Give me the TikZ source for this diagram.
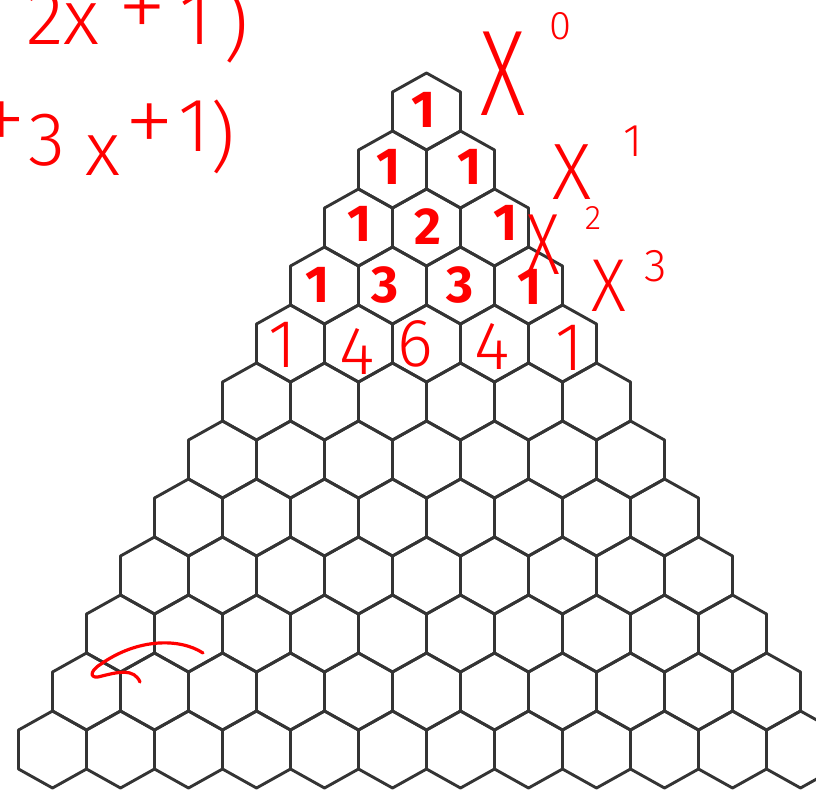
\documentclass[tikz,border=0pt]{standalone}
\usepackage{fontspec}
\newfontfamily\handthin{Fira Sans Light}
\newfontfamily\handxlight{Fira Sans ExtraLight}
\newfontfamily\handbold{Fira Sans}[UprightFont={* Bold}]
\definecolor{ink}{HTML}{FF0000}
\definecolor{hexgray}{HTML}{343434}
\newcommand{\fs}[1]{\fontsize{#1}{#1}\selectfont}
\newcommand{\narrowx}[1]{\scalebox{#1}[1]{X}}
\newcommand{\bigplus}[1]{\scalebox{#1}{\handxlight +}}
\begin{document}
\begin{tikzpicture}[x=1pt,y=-1pt,
  hexline/.style={draw=hexgray, line width=2.9pt, line join=round},
  inkbold/.style={text=ink, inner sep=0pt, font=\handbold\fs{52}},
  inkthin/.style={text=ink, inner sep=0pt, font=\handthin\fs{68}},
  inktext/.style={text=ink, inner sep=0pt},
  scribble/.style={draw=ink, line width=3.2pt, line cap=round, line join=round}]
\useasboundingbox (0,0) rectangle (816,790);
\clip (0,0) rectangle (816,790);
% hexagon triangle
\foreach \r in {0,...,11}{
  \foreach \k in {0,...,\r}{
    \pgfmathsetmacro\cx{426.5+(\k-\r/2)*68}
    \pgfmathsetmacro\cy{111.5+58*\r}
    \draw[hexline] (\cx,\cy) ++(0,-38.5) -- ++(34,19) -- ++(0,39) -- ++(-34,19)
      -- ++(-34,-19) -- ++(0,-39) -- cycle;
  }
}
% Pascal numbers
\node[inkbold] (a1) at (424,110) {1};
\node[inkbold] (b1) at (389,167) {1};
\node[inkbold] (b2) at (470,167) {1};
\node[inkbold] (c1) at (360,224) {1};
\node[inkbold] (c2) at (428,227) {2};
\node[inkbold] (c3) at (506,223) {1};
\node[inkbold] (d1) at (318,285) {1};
\node[inkbold] (d2) at (385,285) {3};
\node[inkbold] (d3) at (460,285) {3};
\node[inkbold] (d4) at (530,287) {1};
\node[inkthin] (e1) at (283,345) {1};
\node[inkthin] (e2) at (357,352) {4};
\node[inkthin] (e3) at (415,344) {6};
\node[inkthin] (e4) at (492,347) {4};
\node[inkthin] (e5) at (570,348) {1};
% powers of x
\node[inktext, font=\handthin\fs{122}] (x0) at (503,74) {\narrowx{0.72}};
\node[inktext, font=\handthin\fs{40}] (x0e) at (560,26) {0};
\node[inktext, font=\handthin\fs{80}] (x1) at (572,172) {\narrowx{0.95}};
\node[inktext, font=\handthin\fs{46}] (x1e) at (633,141) {1};
\node[inktext, font=\handthin\fs{87}] (x2) at (543,245) {\narrowx{0.75}};
\node[inktext, font=\handthin\fs{34}] (x2e) at (593,218) {2};
\node[inktext, font=\handthin\fs{75}] (x3) at (609,286) {\narrowx{0.9}};
\node[inktext, font=\handthin\fs{46}] (x3e) at (656,266) {3};
% expressions at top left
\node[inktext, font=\handthin\fs{78}, anchor=base west] (p2) at (26,44)
  {2x\hspace{18pt}\raisebox{4pt}{\bigplus{1.3}}\hspace{12pt}1\hspace{12pt}\raisebox{-8pt}{)}};
\node[inktext, font=\handthin\fs{76}, anchor=base west] (p3) at (-24,165)
  {\raisebox{12pt}{\bigplus{1.35}}\hspace{2pt}3\hspace{20pt}\raisebox{-10pt}{x}\hspace{4pt}\raisebox{10pt}{\bigplus{1.35}}\hspace{4pt}\raisebox{14pt}{1}\raisebox{2pt}{)}};
% scribble
\coordinate (s0) at (203,653);
\coordinate (s1) at (101,664);
\coordinate (s2) at (102,676);
\coordinate (s3) at (140,682);
\draw[scribble] (s0) .. controls (180,638) and (138,638) .. (s1)
  .. controls (88,672) and (90,680) .. (s2)
  .. controls (118,672) and (134,668) .. (s3);
\end{tikzpicture}
\end{document}
